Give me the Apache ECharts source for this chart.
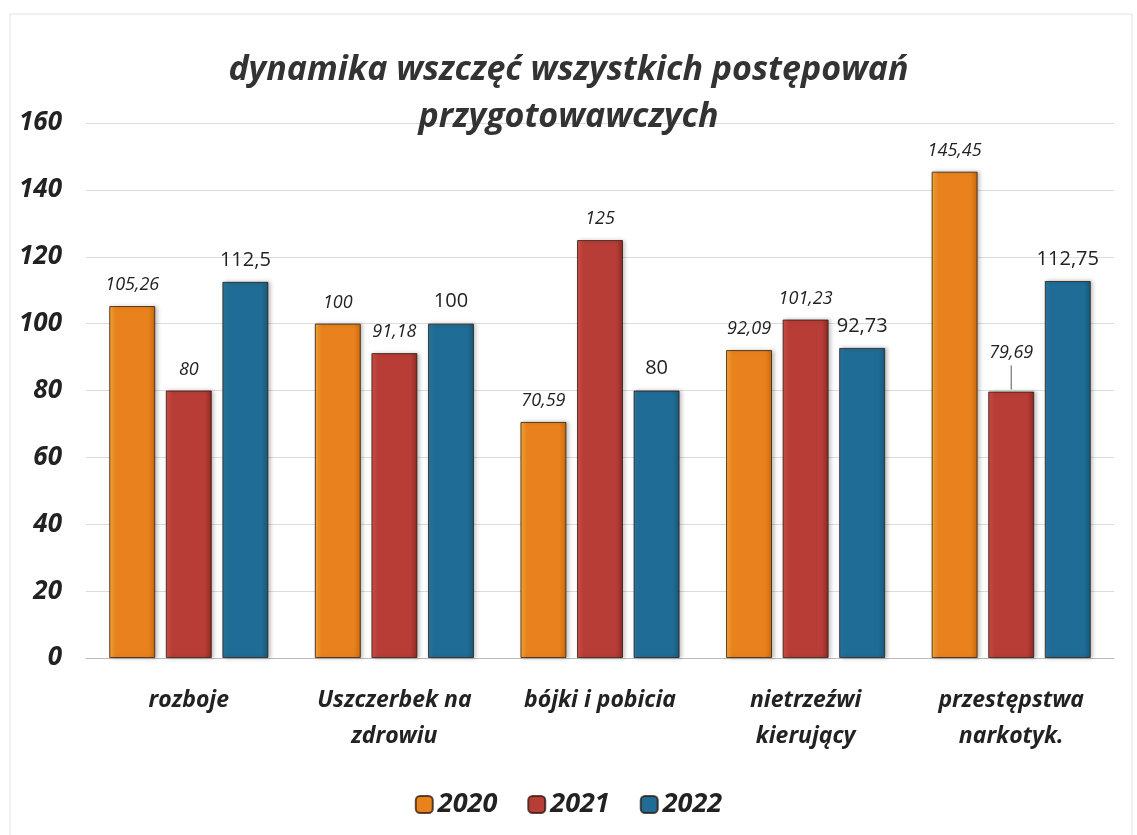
<!DOCTYPE html>
<html lang="pl">
<head>
    <meta charset="UTF-8">
    <title>dynamika wszczęć</title>
    <script src="https://cdn.jsdelivr.net/npm/echarts@6/dist/echarts.min.js"></script>
</head>
<body style="margin:0;background:#fff;">
<div id="main" style="width:1137px;height:835px;"></div>
<script>
    // dane z wykresu
    let kategorie = ['rozboje', 'Uszczerbek na\nzdrowiu', 'bójki i pobicia', 'nietrzeźwi\nkierujący', 'przestępstwa\nnarkotyk.']
    let lata = ['2020', '2021', '2022']
    let v2020 = [105.26, 100, 70.59, 92.09, 145.45]
    let v2021 = [80, 91.18, 125, 101.23, 79.69]
    let v2022 = [112.5, 100, 80, 92.73, 112.75]

    let fmt = p => String(p.value).replace('.', ',')

    function grad(a, b, c) {
        return new echarts.graphic.LinearGradient(0, 0, 1, 0, [
            {offset: 0, color: a}, {offset: 0.15, color: b}, {offset: 0.85, color: b}, {offset: 1, color: c}
        ])
    }

    let kolory = [
        grad('#f7a93a', '#e9821c', '#c96a0e'),
        grad('#cf524a', '#b83d36', '#8e2a25'),
        grad('#2a78a2', '#1f6c96', '#185a7e')
    ]

    let myChart = echarts.init(document.getElementById('main'))

    let etykieta = (italic, size) => ({
        show: true,
        position: 'top',
        distance: 12,
        formatter: fmt,
        color: '#222',
        fontFamily: 'Open Sans',
        fontStyle: italic ? 'italic' : 'normal',
        fontSize: size
    })

    let seria = (i, data, italic, size) => ({
        name: lata[i],
        type: 'bar',
        data: data,
        barGap: '23%',
        barCategoryGap: '22.6%',
        itemStyle: {
            color: kolory[i],
            borderColor: 'rgba(40,20,10,0.75)',
            borderWidth: 1,
            shadowColor: 'rgba(0,0,0,0.25)',
            shadowBlur: 4,
            shadowOffsetX: 2
        },
        label: etykieta(italic, size)
    })

    // 79,69 ma etykietę wyżej, z kreską do słupka
    let s2021 = seria(1, v2021.map((v, i) => i === 4 ? {
        value: v,
        label: {
            distance: 2,
            formatter: p => '{a|' + fmt(p) + '}\n{l|}',
            rich: {
                a: {fontFamily: 'Open Sans', fontStyle: 'italic', fontSize: 18, color: '#222', lineHeight: 26},
                l: {width: 1, height: 24, backgroundColor: '#555'}
            }
        }
    } : v), true, 18)

    let option = {
        backgroundColor: '#fff',
        graphic: [{
            type: 'rect',
            shape: {x: 10, y: 14, width: 1122, height: 830},
            style: {fill: 'none', stroke: '#e2e2e2', lineWidth: 1},
            silent: true
        }],
        title: {
            text: 'dynamika wszczęć wszystkich postępowań\nprzygotowawczych',
            left: 'center',
            top: 42,
            textStyle: {
                fontFamily: 'Open Sans',
                fontStyle: 'italic',
                fontWeight: 'bold',
                fontSize: 34,
                lineHeight: 47,
                color: '#333'
            }
        },
        legend: {
            bottom: 12,
            left: 'center',
            itemWidth: 17,
            itemHeight: 17,
            itemGap: 30,
            data: lata,
            textStyle: {
                fontFamily: 'Open Sans',
                fontStyle: 'italic',
                fontWeight: 'bold',
                fontSize: 27,
                color: '#222'
            }
        },
        grid: {
            left: 86,
            right: 23,
            top: 123,
            bottom: 177
        },
        xAxis: {
            type: 'category',
            data: kategorie,
            axisTick: {show: false},
            axisLine: {lineStyle: {color: '#bbb'}},
            axisLabel: {
                interval: 0,
                margin: 24,
                fontFamily: 'Open Sans',
                fontStyle: 'italic',
                fontWeight: 'bold',
                fontSize: 23,
                lineHeight: 36,
                color: '#222'
            }
        },
        yAxis: {
            type: 'value',
            min: 0,
            max: 160,
            interval: 20,
            axisLine: {show: false},
            splitLine: {lineStyle: {color: '#dcdcdc'}},
            axisLabel: {
                margin: 24,
                fontFamily: 'Open Sans',
                fontStyle: 'italic',
                fontWeight: 'bold',
                fontSize: 26,
                color: '#222'
            }
        },
        series: [
            seria(0, v2020, true, 18),
            s2021,
            seria(2, v2022, false, 20)
        ]
    }
    myChart.setOption(option)
</script>
</body>
</html>
